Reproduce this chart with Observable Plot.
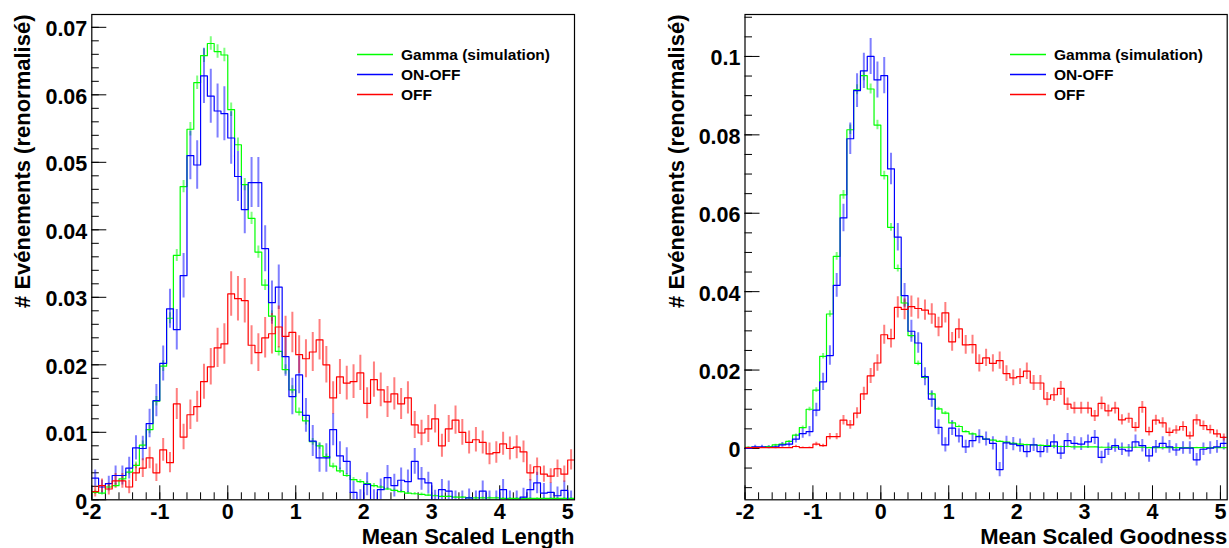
<!DOCTYPE html>
<html>
<head>
<meta charset="utf-8">
<script src="https://cdn.jsdelivr.net/npm/d3@7"></script>
<script src="https://cdn.jsdelivr.net/npm/@observablehq/plot@0.6"></script>
<style>
  body { margin: 0; background: #fff; }
  #wrap { position: relative; width: 1229px; height: 548px; overflow: hidden; background: #fff; }
  #wrap svg { position: absolute; top: 0; background: transparent; }
</style>
</head>
<body>
<div id="wrap"></div>
<script>
// ---------- data (bins of width 0.1 from -2 to 5.1) ----------
const binStart = -2, binWidth = 0.1, nBins = 71;

const seriesNames = ["Gamma (simulation)", "ON-OFF", "OFF"];
const seriesColors = ["#00ff00", "#0000ff", "#ff0000"];

const xTickValues = [-2, -1, 0, 1, 2, 3, 4, 5];
const xTickLabels = ["-2", "-1", "0", "1", "2", "3", "4", "5"];

const lengthYTickValues = [0, 0.01, 0.02, 0.03, 0.04, 0.05, 0.06, 0.07];
const lengthYTickLabels = ["0", "0.01", "0.02", "0.03", "0.04", "0.05", "0.06", "0.07"];
const goodnessYTickValues = [0, 0.02, 0.04, 0.06, 0.08, 0.1];
const goodnessYTickLabels = ["0", "0.02", "0.04", "0.06", "0.08", "0.1"];

// Mean Scaled Length
const lengthGamma = [
  0.0011,0.0010,0.0019,0.0021,0.0031,0.0041,0.0051,0.0081,0.0104,0.0146,
  0.0198,0.0269,0.0362,0.0464,0.0549,0.0618,0.0658,0.0676,0.0664,0.0659,
  0.0578,0.0526,0.0467,0.0417,0.0367,0.0318,0.0272,0.0220,0.0193,0.0163,
  0.0130,0.0117,0.0086,0.0080,0.0064,0.0050,0.0043,0.0036,0.0030,0.0027,
  0.0024,0.0021,0.0019,0.0016,0.0014,0.0012,0.0010,0.0009,0.0008,0.0007,
  0.0006,0.0005,0.0005,0.0004,0.0004,0.0003,0.0003,0.0003,0.0003,0.0003,
  0.0002,0.0002,0.0002,0.0002,0.0002,0.0002,0.0002,0.0002,0.0002,0.0002,
  0.0002];
const lengthGammaErr = [
  0.0003,0.0003,0.0003,0.0003,0.0004,0.0004,0.0005,0.0006,0.0006,0.0007,
  0.0008,0.0008,0.0009,0.0009,0.0010,0.0010,0.0010,0.0010,0.0010,0.0010,
  0.0010,0.0010,0.0009,0.0009,0.0009,0.0008,0.0008,0.0007,0.0007,0.0006,
  0.0006,0.0006,0.0005,0.0005,0.0004,0.0004,0.0004,0.0003,0.0003,0.0003,
  0.0003,0.0003,0.0002,0.0002,0.0002,0.0002,0.0002,0.0002,0.0002,0.0002,
  0.0001,0.0001,0.0001,0.0001,0.0001,0.0001,0.0001,0.0001,0.0001,0.0001,
  0.0001,0.0001,0.0001,0.0001,0.0001,0.0001,0.0001,0.0001,0.0001,0.0001,
  0.0001];
const lengthOnOff = [
  0.0032,0.0019,0.0024,0.0036,0.0036,0.0047,0.0077,0.0076,0.0113,0.0147,
  0.0202,0.0283,0.0252,0.0332,0.0510,0.0496,0.0628,0.0598,0.0576,0.0572,
  0.0536,0.0479,0.0430,0.0470,0.0470,0.0372,0.0292,0.0315,0.0212,0.0153,
  0.0185,0.0125,0.0087,0.0062,0.0062,0.0104,0.0065,0.0057,0.0011,0.0000,
  0.0023,0.0000,0.0015,0.0033,0.0021,0.0029,0.0027,0.0057,0.0031,0.0025,
  0.0000,0.0015,0.0013,0.0000,0.0000,0.0003,0.0000,0.0013,0.0000,0.0000,
  0.0015,0.0000,0.0000,0.0004,0.0015,0.0025,0.0010,0.0011,0.0006,0.0014,
  0.0000];
const lengthOnOffErr = [
  0.0012,0.0010,0.0011,0.0014,0.0014,0.0016,0.0018,0.0018,0.0021,0.0024,
  0.0026,0.0029,0.0030,0.0033,0.0036,0.0036,0.0041,0.0040,0.0040,0.0040,
  0.0039,0.0037,0.0036,0.0037,0.0037,0.0034,0.0032,0.0033,0.0029,0.0027,
  0.0028,0.0025,0.0023,0.0021,0.0021,0.0024,0.0021,0.0020,0.0016,0.0015,
  0.0017,0.0015,0.0016,0.0018,0.0017,0.0018,0.0017,0.0019,0.0017,0.0016,
  0.0014,0.0015,0.0015,0.0013,0.0013,0.0013,0.0013,0.0015,0.0013,0.0013,
  0.0015,0.0013,0.0013,0.0013,0.0015,0.0016,0.0014,0.0014,0.0013,0.0014,
  0.0013];
const lengthOff = [
  0.0012,0.0021,0.0016,0.0028,0.0028,0.0019,0.0040,0.0047,0.0062,0.0040,
  0.0074,0.0055,0.0142,0.0093,0.0126,0.0138,0.0175,0.0197,0.0225,0.0231,
  0.0305,0.0298,0.0295,0.0229,0.0218,0.0240,0.0246,0.0256,0.0242,0.0248,
  0.0215,0.0209,0.0219,0.0237,0.0200,0.0151,0.0182,0.0173,0.0175,0.0188,
  0.0143,0.0178,0.0163,0.0145,0.0157,0.0142,0.0151,0.0111,0.0099,0.0105,
  0.0120,0.0080,0.0105,0.0118,0.0100,0.0085,0.0089,0.0085,0.0068,0.0070,
  0.0083,0.0076,0.0078,0.0071,0.0040,0.0049,0.0038,0.0035,0.0046,0.0038,
  0.0059];
const lengthOffErr = [
  0.0008,0.0010,0.0009,0.0011,0.0011,0.0010,0.0013,0.0014,0.0016,0.0013,
  0.0017,0.0015,0.0023,0.0019,0.0022,0.0023,0.0026,0.0027,0.0029,0.0030,
  0.0033,0.0033,0.0033,0.0029,0.0028,0.0030,0.0030,0.0031,0.0030,0.0030,
  0.0028,0.0028,0.0029,0.0030,0.0027,0.0024,0.0026,0.0025,0.0025,0.0026,
  0.0023,0.0026,0.0025,0.0023,0.0024,0.0023,0.0024,0.0020,0.0019,0.0020,
  0.0021,0.0017,0.0020,0.0021,0.0019,0.0017,0.0018,0.0017,0.0016,0.0016,
  0.0017,0.0017,0.0017,0.0016,0.0012,0.0013,0.0012,0.0011,0.0013,0.0012,
  0.0015];

// Mean Scaled Goodness
const goodnessGamma = [
  0.0003,0.0003,0.0003,0.0005,0.0009,0.0011,0.0018,0.0034,0.0053,0.0100,
  0.0149,0.0235,0.0343,0.0490,0.0647,0.0813,0.0915,0.0951,0.0917,0.0825,
  0.0696,0.0564,0.0459,0.0371,0.0288,0.0217,0.0181,0.0139,0.0101,0.0090,
  0.0065,0.0056,0.0043,0.0037,0.0031,0.0024,0.0021,0.0018,0.0016,0.0013,
  0.0011,0.0010,0.0009,0.0008,0.0007,0.0006,0.0005,0.0005,0.0004,0.0004,
  0.0004,0.0004,0.0003,0.0003,0.0003,0.0003,0.0003,0.0003,0.0003,0.0002,
  0.0002,0.0002,0.0002,0.0002,0.0002,0.0002,0.0002,0.0002,0.0002,0.0002,
  0.0002];
const goodnessGammaErr = [
  0.0001,0.0001,0.0001,0.0001,0.0002,0.0002,0.0002,0.0003,0.0004,0.0005,
  0.0006,0.0007,0.0008,0.0010,0.0011,0.0012,0.0013,0.0013,0.0013,0.0012,
  0.0011,0.0010,0.0009,0.0008,0.0007,0.0006,0.0006,0.0005,0.0004,0.0004,
  0.0003,0.0003,0.0003,0.0003,0.0002,0.0002,0.0002,0.0002,0.0002,0.0002,
  0.0001,0.0001,0.0001,0.0001,0.0001,0.0001,0.0001,0.0001,0.0001,0.0001,
  0.0001,0.0001,0.0001,0.0001,0.0001,0.0001,0.0001,0.0001,0.0001,0.0001,
  0.0001,0.0001,0.0001,0.0001,0.0001,0.0001,0.0001,0.0001,0.0001,0.0001,
  0.0001];
const goodnessOnOff = [
  0.0000,0.0004,0.0004,0.0003,0.0004,0.0009,0.0011,0.0024,0.0038,0.0043,
  0.0098,0.0170,0.0237,0.0416,0.0588,0.0790,0.0913,0.0963,0.1000,0.0940,
  0.0951,0.0713,0.0539,0.0390,0.0299,0.0269,0.0183,0.0126,0.0054,0.0009,
  0.0052,0.0032,0.0004,0.0020,0.0030,0.0024,0.0013,-0.0054,0.0014,0.0011,
  0.0007,-0.0008,0.0009,-0.0008,0.0005,0.0017,-0.0012,0.0020,0.0013,0.0011,
  0.0017,0.0028,-0.0023,-0.0002,0.0007,-0.0002,-0.0006,0.0017,0.0007,-0.0019,
  0.0004,0.0013,0.0004,-0.0004,0.0001,0.0001,-0.0029,-0.0002,0.0001,0.0004,
  0.0013];
const goodnessOnOffErr = [
  0.0003,0.0004,0.0004,0.0004,0.0005,0.0006,0.0007,0.0010,0.0012,0.0013,
  0.0017,0.0022,0.0025,0.0030,0.0035,0.0040,0.0043,0.0045,0.0046,0.0046,
  0.0046,0.0040,0.0035,0.0031,0.0028,0.0026,0.0023,0.0021,0.0019,0.0018,
  0.0019,0.0018,0.0017,0.0018,0.0018,0.0018,0.0017,0.0018,0.0017,0.0017,
  0.0017,0.0016,0.0017,0.0016,0.0017,0.0018,0.0016,0.0018,0.0017,0.0016,
  0.0017,0.0018,0.0016,0.0016,0.0017,0.0016,0.0016,0.0017,0.0016,0.0016,
  0.0016,0.0017,0.0016,0.0016,0.0016,0.0016,0.0016,0.0016,0.0016,0.0016,
  0.0017];
const goodnessOff = [
  0.0002,0.0002,0.0002,0.0002,0.0002,0.0002,0.0002,0.0005,0.0002,0.0002,
  0.0011,0.0007,0.0030,0.0030,0.0072,0.0060,0.0090,0.0139,0.0185,0.0218,
  0.0290,0.0280,0.0360,0.0355,0.0362,0.0357,0.0353,0.0343,0.0310,0.0346,
  0.0272,0.0305,0.0264,0.0265,0.0217,0.0231,0.0217,0.0224,0.0191,0.0180,
  0.0183,0.0197,0.0167,0.0167,0.0126,0.0137,0.0153,0.0113,0.0103,0.0103,
  0.0103,0.0083,0.0115,0.0096,0.0103,0.0073,0.0077,0.0054,0.0105,0.0043,
  0.0072,0.0065,0.0041,0.0047,0.0056,0.0032,0.0073,0.0058,0.0048,0.0037,
  0.0028];
const goodnessOffErr = [
  0.0001,0.0001,0.0001,0.0001,0.0001,0.0001,0.0001,0.0003,0.0002,0.0002,
  0.0005,0.0004,0.0008,0.0008,0.0012,0.0011,0.0014,0.0017,0.0019,0.0021,
  0.0024,0.0024,0.0027,0.0027,0.0027,0.0027,0.0026,0.0026,0.0025,0.0026,
  0.0024,0.0025,0.0024,0.0024,0.0022,0.0022,0.0022,0.0022,0.0020,0.0020,
  0.0020,0.0021,0.0019,0.0019,0.0017,0.0017,0.0018,0.0016,0.0015,0.0015,
  0.0015,0.0014,0.0016,0.0015,0.0015,0.0013,0.0013,0.0012,0.0015,0.0011,
  0.0013,0.0013,0.0011,0.0011,0.0012,0.0010,0.0013,0.0012,0.0011,0.0010,
  0.0009];

// ---------- helpers ----------
const edges = Array.from({length: nBins + 1}, (_, i) => Math.round((binStart + i * binWidth) * 100) / 100);
function stepRows(values) {
  const rows = values.map((v, i) => ({x: edges[i], y: v}));
  rows.push({x: edges[values.length], y: values[values.length - 1]});
  return rows;
}
function errRows(values, errs) {
  return values.map((v, i) => ({x: (edges[i] + edges[i + 1]) / 2, lo: v - errs[i], hi: v + errs[i]}));
}
function tickRange(a, b, step) {
  const out = [];
  for (let k = Math.round(a / step); k * step <= b + 1e-9; k++) out.push(Math.round(k * step * 1e6) / 1e6);
  return out;
}

const H = 548, MT = 14, MB = 48.7;
const FONT = "'Liberation Sans', Arial, Helvetica, sans-serif";

function panel(cfg) {
  const innerW = cfg.width - cfg.marginLeft - cfg.marginRight;
  const innerH = H - MT - MB;
  const xMinor = tickRange(-2, 5.1, 0.2);
  const marks = [
    Plot.tickX(xMinor, {x: d => d, insetTop: innerH - 7, stroke: "#000", strokeWidth: 1}),
    Plot.tickX(xTickValues, {x: d => d, insetTop: innerH - 14, stroke: "#000", strokeWidth: 1}),
    Plot.tickY(cfg.yMinor, {y: d => d, insetRight: innerW - 7.5, stroke: "#000", strokeWidth: 1}),
    Plot.tickY(cfg.yTicks, {y: d => d, insetRight: innerW - 15, stroke: "#000", strokeWidth: 1})
  ];
  cfg.series.forEach(s => {
    marks.push(Plot.ruleX(errRows(s.values, s.errs), {x: "x", y1: "lo", y2: "hi", stroke: s.color, strokeOpacity: 0.5, strokeWidth: 2, clip: true}));
  });
  cfg.series.forEach(s => {
    marks.push(Plot.line(stepRows(s.values), {x: "x", y: "y", curve: "step-after", stroke: s.color, strokeWidth: 1.2, clip: true}));
  });
  marks.push(Plot.frame({stroke: "#000", strokeWidth: 1.2}));
  marks.push(Plot.text(xTickValues.map((v, i) => ({v, t: xTickLabels[i]})), {
    x: "v", text: "t", frameAnchor: "bottom", dy: 4, lineAnchor: "top",
    fontSize: 21.5, fontWeight: "bold", fill: "#000"}));
  marks.push(Plot.text(cfg.yTicks.map((v, i) => ({v, t: cfg.yLabels[i]})), {
    y: "v", text: "t", frameAnchor: "left", dx: -4.5, dy: 2, textAnchor: "end", lineAnchor: "middle",
    fontSize: 21.5, fontWeight: "bold", fill: "#000"}));
  marks.push(Plot.text([cfg.xTitle], {
    frameAnchor: "bottom-right", dy: 44, textAnchor: "end", lineAnchor: "bottom",
    fontSize: 22, fontWeight: "bold", fill: "#000"}));
  marks.push(Plot.text(["# Evénements (renormalisé)"], {
    frameAnchor: "top-left", dx: cfg.yTitleX - cfg.marginLeft, dy: 0, rotate: -90,
    textAnchor: "end", lineAnchor: "bottom", fontSize: 22, fontWeight: "bold", fill: "#000"}));

  const svg = Plot.plot({
    width: cfg.width, height: H,
    marginLeft: cfg.marginLeft, marginRight: cfg.marginRight, marginTop: MT, marginBottom: MB,
    x: {domain: [-2, 5.1], axis: null},
    y: {domain: cfg.yDomain, axis: null},
    style: {fontFamily: FONT, background: "transparent", overflow: "visible"},
    marks
  });
  svg.style.left = cfg.left + "px";

  // legend (ROOT TLegend style, no border)
  const g = d3.select(svg).append("g")
    .attr("font-family", FONT).attr("font-weight", "bold").attr("font-size", 15.5)
    .attr("text-anchor", "start");
  const rowsY = [54.5, 74.5, 94.5];
  cfg.series.forEach((s, i) => {
    g.append("line")
      .attr("x1", cfg.legendX).attr("x2", cfg.legendX + 36)
      .attr("y1", rowsY[i]).attr("y2", rowsY[i])
      .style("stroke", s.color).style("stroke-width", "1.5px");
    g.append("text")
      .attr("x", cfg.legendX + 44).attr("y", rowsY[i]).attr("dy", "0.35em")
      .style("fill", "#000").style("text-anchor", "start")
      .text(s.name);
  });
  return svg;
}

const wrap = document.getElementById("wrap");

wrap.appendChild(panel({
  left: 0, width: 614, marginLeft: 91.3, marginRight: 40,
  yDomain: [0, 0.0719],
  yTicks: lengthYTickValues, yLabels: lengthYTickLabels,
  yMinor: tickRange(0, 0.0719, 0.002),
  xTitle: "Mean Scaled Length", yTitleX: 29, legendX: 357,
  series: [
    {name: seriesNames[0], color: seriesColors[0], values: lengthGamma, errs: lengthGammaErr},
    {name: seriesNames[1], color: seriesColors[1], values: lengthOnOff, errs: lengthOnOffErr},
    {name: seriesNames[2], color: seriesColors[2], values: lengthOff, errs: lengthOffErr}
  ]
}));

wrap.appendChild(panel({
  left: 614, width: 615, marginLeft: 130.5, marginRight: 2.3,
  yDomain: [-0.0131, 0.1107],
  yTicks: goodnessYTickValues, yLabels: goodnessYTickLabels,
  yMinor: tickRange(-0.01, 0.1107, 0.005),
  xTitle: "Mean Scaled Goodness", yTitleX: 683.5 - 614, legendX: 1010 - 614,
  series: [
    {name: seriesNames[0], color: seriesColors[0], values: goodnessGamma, errs: goodnessGammaErr},
    {name: seriesNames[1], color: seriesColors[1], values: goodnessOnOff, errs: goodnessOnOffErr},
    {name: seriesNames[2], color: seriesColors[2], values: goodnessOff, errs: goodnessOffErr}
  ]
}));
</script>
</body>
</html>
